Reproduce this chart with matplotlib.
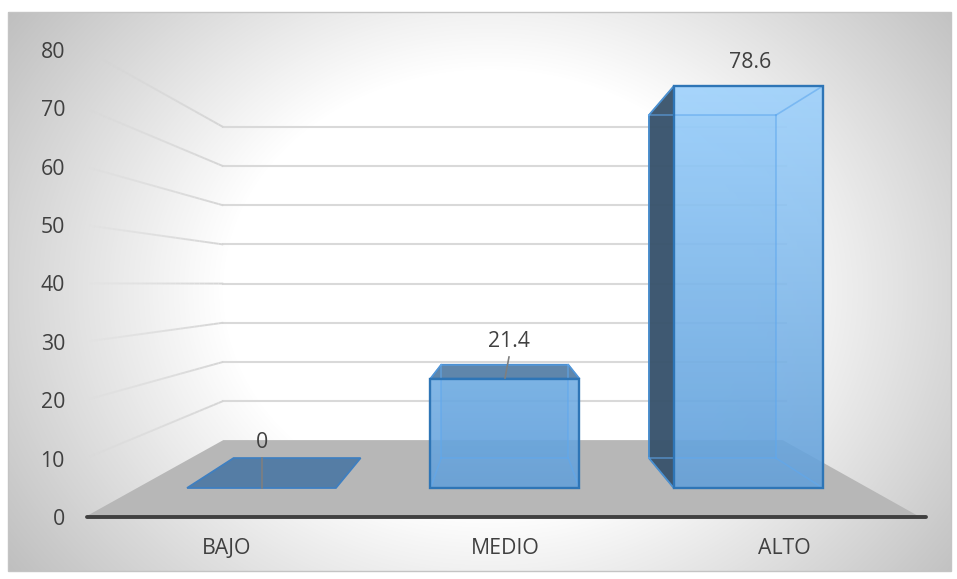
import numpy as np
import matplotlib
matplotlib.use("Agg")
import matplotlib.pyplot as plt
from matplotlib.patches import Polygon
from matplotlib.collections import LineCollection
from matplotlib.colors import LinearSegmentedColormap

plt.rcParams['font.family'] = ['Open Sans', 'DejaVu Sans']

categories = ['BAJO', 'MEDIO', 'ALTO']
values = [0, 21.4, 78.6]
y_ticks = [0, 10, 20, 30, 40, 50, 60, 70, 80]

# perspective: everything shrinks toward the vanishing point with depth
VX, VY = 504, 284
FRONT_Y = 517      # pixel row of value 0 on the front edge
UNIT = 5.84        # pixels per value unit on the front edge
LEFT, RIGHT = 85, 925
S_WALL = 0.67      # back wall
S_BAR_F = 0.8755   # bar front
S_BAR_B = 0.747    # bar back
BAR_W = 170
TEXT = '#404040'
FS = 15.3


def project(x, v, s=1.0):
    return VX + (x - VX) * s, VY + (FRONT_Y - UNIT * v - VY) * s


def quad(pts, **kw):
    p = Polygon(pts, closed=True, **kw)
    ax.add_patch(p)
    return p


fig = plt.figure(figsize=(9.57, 5.79), dpi=100)
ax = fig.add_axes([0, 0, 1, 1])
ax.set_xlim(0, 957)
ax.set_ylim(579, 0)
ax.axis('off')

# page background, radial from the middle of the chart
yy, xx = np.mgrid[12:571, 8:951]
r = np.hypot((xx - 490) / 266, (yy - 290) / 220)
bg_cmap = LinearSegmentedColormap.from_list('bg', ['#ffffff', '#bdbdbd'])
ax.imshow(bg_cmap(np.clip((r - 1) * 0.8, 0, 1)), extent=(8, 951, 571, 12), aspect='auto', zorder=0)
ax.set_xlim(0, 957)
ax.set_ylim(579, 0)
ax.add_patch(plt.Rectangle((8, 12), 943, 559, fill=False, ec='#c4c4c4', lw=1.0, zorder=1))

# floor
quad([project(LEFT, 0), project(RIGHT - 5, 0), project(RIGHT - 5, 0, S_WALL), project(LEFT, 0, S_WALL)],
     fc='#b7b7b7', ec='none', zorder=2)

# gridlines on back wall and left wall, left wall ones fade out
for t in y_ticks[1:]:
    x0, y0 = project(LEFT, t)
    x1, y1 = project(LEFT, t, S_WALL)
    x2, y2 = project(RIGHT, t, S_WALL)
    ax.plot([x1, x2], [y1, y2], color='#d9d9d9', lw=1.5, zorder=2)
    k = np.linspace(0, 1, 30)
    px = x0 + (x1 - x0) * k
    py = y0 + (y1 - y0) * k
    segs = [[(px[i], py[i]), (px[i + 1], py[i + 1])] for i in range(29)]
    cols = [(0.83, 0.83, 0.83, k[i] ** 0.8) for i in range(29)]
    ax.add_collection(LineCollection(segs, colors=cols, linewidths=1.4, zorder=2))

# front gradient for bars
grad_cmap = LinearSegmentedColormap.from_list('bar', ['#a0d4ff', '#62a0da'])
grad = grad_cmap(np.linspace(0, 1, 256))[:, None, :]

for i, v in enumerate(values):
    c = 227 + 278 * i
    xl, xr = c - BAR_W / 2, c + BAR_W / 2
    fbl, fbr = project(xl, 0, S_BAR_F), project(xr, 0, S_BAR_F)
    ftl, ftr = project(xl, v, S_BAR_F), project(xr, v, S_BAR_F)
    bbl, bbr = project(xl, 0, S_BAR_B), project(xr, 0, S_BAR_B)
    btl, btr = project(xl, v, S_BAR_B), project(xr, v, S_BAR_B)

    if v == 0:
        quad([fbl, fbr, bbr, bbl], fc='#557da5', ec='#3f7fc0', lw=1.3, zorder=4)
    else:
        # back panel, seen through the front
        quad([bbl, bbr, btr, btl], fc=(0.36, 0.62, 0.86, 0.35), ec='none', zorder=3)
        # top, only seen on the lower bar
        if btl[1] < ftl[1]:
            quad([ftl, ftr, btr, btl], fc='#5f86ab', ec='#3a7ab8', lw=1.2, zorder=5)
        # left side turned to the viewer
        if bbl[0] < fbl[0]:
            quad([fbl, ftl, btl, bbl], fc=(0.22, 0.32, 0.42, 0.95), ec='#2f6fa8', lw=1.2, zorder=5)
        img = ax.imshow(grad, extent=(ftl[0], ftr[0], fbl[1], 60), aspect='auto', alpha=0.88, zorder=6)
        clip = quad([fbl, fbr, ftr, ftl], fc='none', ec='none')
        img.set_clip_path(clip)
        ax.set_xlim(0, 957)
        ax.set_ylim(579, 0)
        # inner edges stay visible through the front
        for a, b in [(bbl, bbr), (bbr, btr), (btr, btl), (btl, bbl), (fbl, bbl), (fbr, bbr), (ftr, btr), (ftl, btl)]:
            ax.plot([a[0], b[0]], [a[1], b[1]], color='#5fa8ee', lw=1.2, alpha=0.6, zorder=6.5)
        quad([fbl, fbr, ftr, ftl], fill=False, ec='#2e75b6', lw=1.7, zorder=7)

    ax.text(c + i * 0.5, 549, categories[i], ha='center', va='center', color=TEXT, fontsize=FS, zorder=9)

# data labels with leaders
ax.plot([262, 262], [458, 488], color='#7f7f7f', lw=1.2, zorder=8)
ax.text(262, 442, f'{values[0]}', ha='center', va='center', color=TEXT, fontsize=FS, zorder=9)
ax.plot([505, 509], [378, 357], color='#7f7f7f', lw=1.2, zorder=8)
ax.text(509, 341.5, f'{values[1]}', ha='center', va='center', color=TEXT, fontsize=FS, zorder=9)
ax.text(750, 62, f'{values[2]}', ha='center', va='center', color=TEXT, fontsize=FS, zorder=9)

# baseline
ax.plot([LEFT + 2, RIGHT + 1], [FRONT_Y, FRONT_Y], color='#404040', lw=2.8, solid_capstyle='round', zorder=8)

for t in y_ticks:
    ax.text(65, project(LEFT, t)[1] + 2.5, str(t), ha='right', va='center', color=TEXT, fontsize=FS, zorder=9)

fig.savefig('out.png', dpi=100)
